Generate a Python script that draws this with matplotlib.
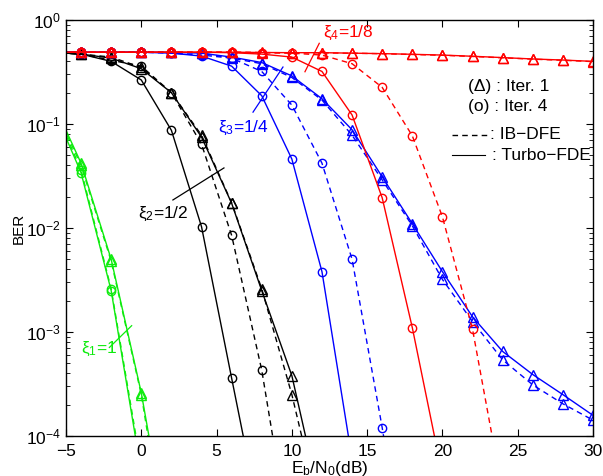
import numpy as np
import matplotlib
matplotlib.use("Agg")
import matplotlib.pyplot as plt

plt.rcParams['font.family'] = ['Liberation Sans', 'DejaVu Sans']
plt.rcParams['mathtext.fontset'] = 'custom'
plt.rcParams['mathtext.rm'] = 'Liberation Sans'
plt.rcParams['mathtext.it'] = 'Liberation Sans:italic'
plt.rcParams['mathtext.bf'] = 'Liberation Sans:bold'

# ---------------- data ----------------
x_full = [-6, -4, -2, 0, 2, 4, 6, 8, 10, 12, 14, 16, 18, 20, 22, 24, 26, 28, 30]

# xi1 = 1 (green)
x_g = [-6, -4, -2, 0, 2]
g_tri_turbo = [0.18, 0.042, 5.0e-3, 2.6e-4, 6e-6]
g_tri_ibdfe = [0.17, 0.040, 4.8e-3, 2.5e-4, 4e-6]
x_g4 = [-6, -4, -2, 0]
g_cir_turbo = [0.16, 0.034, 2.5e-3, 4.5e-5]
g_cir_ibdfe = [0.17, 0.036, 2.6e-3, 5e-5]

# xi2 = 1/2 (black)
x_k = [-6, -4, -2, 0, 2, 4, 6, 8, 10, 12]
k_tri_turbo = [0.49, 0.47, 0.43, 0.34, 0.20, 0.075, 0.0173, 2.5e-3, 3.8e-4, 2e-5]
k_tri_ibdfe = [0.49, 0.47, 0.44, 0.35, 0.20, 0.078, 0.0175, 2.6e-3, 2.5e-4, 1.5e-5]
x_k4t = [-6, -4, -2, 0, 2, 4, 6, 8]
k_cir_turbo = [0.49, 0.47, 0.40, 0.265, 0.087, 0.0103, 3.6e-4, 1.3e-5]
x_k4d = [-6, -4, -2, 0, 2, 4, 6, 8, 10]
k_cir_ibdfe = [0.49, 0.47, 0.41, 0.36, 0.20, 0.064, 0.0085, 4.3e-4, 7.6e-6]

# xi3 = 1/4 (blue)
b_tri_turbo = [0.49, 0.49, 0.49, 0.49, 0.49, 0.48, 0.44, 0.39, 0.29, 0.175, 0.088,
               0.031, 0.011, 3.8e-3, 1.4e-3, 6.5e-4, 3.9e-4, 2.5e-4, 1.58e-4]
b_tri_ibdfe = [0.49, 0.49, 0.49, 0.49, 0.49, 0.48, 0.43, 0.38, 0.28, 0.17, 0.078,
               0.029, 0.0105, 3.2e-3, 1.26e-3, 5.4e-4, 3.1e-4, 2.04e-4, 1.42e-4]
x_b4t = [-6, -4, -2, 0, 2, 4, 6, 8, 10, 12, 14]
b_cir_turbo = [0.49, 0.49, 0.49, 0.49, 0.48, 0.45, 0.36, 0.187, 0.046, 3.8e-3, 6e-5]
x_b4d = [-6, -4, -2, 0, 2, 4, 6, 8, 10, 12, 14, 16, 18]
b_cir_ibdfe = [0.49, 0.49, 0.49, 0.49, 0.48, 0.46, 0.43, 0.32, 0.152, 0.042, 5.0e-3,
               1.2e-4, 2e-6]

# xi4 = 1/8 (red)
r_tri_turbo = [0.49, 0.49, 0.49, 0.49, 0.49, 0.49, 0.49, 0.487, 0.485, 0.485, 0.48,
               0.475, 0.468, 0.46, 0.448, 0.435, 0.422, 0.412, 0.40]
r_tri_ibdfe = [0.49, 0.49, 0.49, 0.49, 0.49, 0.49, 0.49, 0.486, 0.484, 0.483, 0.479,
               0.474, 0.466, 0.458, 0.446, 0.433, 0.42, 0.41, 0.398]
x_r4t = [-6, -4, -2, 0, 2, 4, 6, 8, 10, 12, 14, 16, 18, 20]
r_cir_turbo = [0.49, 0.49, 0.49, 0.49, 0.49, 0.49, 0.485, 0.47, 0.44, 0.32, 0.122,
               0.0195, 1.1e-3, 4.2e-5]
x_r4d = [-6, -4, -2, 0, 2, 4, 6, 8, 10, 12, 14, 16, 18, 20, 22, 24]
r_cir_ibdfe = [0.49, 0.49, 0.49, 0.49, 0.49, 0.49, 0.49, 0.485, 0.48, 0.46, 0.38,
               0.225, 0.077, 0.0128, 1.06e-3, 2.8e-5]

xticks = [-5, 0, 5, 10, 15, 20, 25, 30]
xticklabels = ['\u22125', '0', '5', '10', '15', '20', '25', '30']

# ---------------- figure ----------------
fig = plt.figure(figsize=(6.03, 4.76), dpi=100)
ax = fig.add_axes([66/603, 1-436/476, 527/603, 416/476])

GREEN = (0.05, 0.92, 0.05)
lw = 1.0
ms_c = 6.0
ms_t = 6.5
dash = (4, 3)
FS = 12.5

def curve(x, y, color, marker, dashed):
    kw = dict(color=color, lw=lw, marker=marker, mfc='none', mec=color,
              mew=1.0, ms=ms_t if marker == '^' else ms_c)
    if dashed:
        kw['linestyle'] = (0, dash)
    else:
        kw['linestyle'] = '-'
    ax.plot(x, y, **kw)

# green
curve(x_g, g_tri_turbo, GREEN, '^', False)
curve(x_g, g_tri_ibdfe, GREEN, '^', True)
curve(x_g4, g_cir_turbo, GREEN, 'o', False)
curve(x_g4, g_cir_ibdfe, GREEN, 'o', True)
# black
curve(x_k, k_tri_turbo, 'k', '^', False)
curve(x_k, k_tri_ibdfe, 'k', '^', True)
curve(x_k4t, k_cir_turbo, 'k', 'o', False)
curve(x_k4d, k_cir_ibdfe, 'k', 'o', True)
# blue
curve(x_full, b_tri_turbo, 'b', '^', False)
curve(x_full, b_tri_ibdfe, 'b', '^', True)
curve(x_b4t, b_cir_turbo, 'b', 'o', False)
curve(x_b4d, b_cir_ibdfe, 'b', 'o', True)
# red
curve(x_full, r_tri_turbo, 'r', '^', False)
curve(x_full, r_tri_ibdfe, 'r', '^', True)
curve(x_r4t, r_cir_turbo, 'r', 'o', False)
curve(x_r4d, r_cir_ibdfe, 'r', 'o', True)

ax.set_yscale('log')
ax.set_xlim(-5, 30)
ax.set_ylim(1e-4, 1)
ax.set_xticks(xticks)
ax.set_xticklabels(xticklabels)
ax.tick_params(axis='both', which='both', direction='in', top=True, right=True,
               labelsize=FS)
ax.tick_params(which='major', length=5, width=0.8)
ax.tick_params(which='minor', length=3, width=0.6)
ax.tick_params(axis='x', which='major', pad=6)
ax.minorticks_on()
ax.xaxis.set_minor_locator(matplotlib.ticker.NullLocator())
for s in ax.spines.values():
    s.set_linewidth(1.0)

ax.set_ylabel('BER', fontsize=11, labelpad=0)
ax.set_xlabel('E$_\\mathrm{b}$/N$_\\mathrm{0}$(dB)', fontsize=FS, labelpad=0)

# annotations
ax.plot([10.87, 11.82], [0.318, 0.597], color='r', lw=0.9)
ax.text(12.07, 0.69, '\u03be$_4$=1/8', color='r', fontsize=FS, va='baseline')
ax.plot([7.42, 9.41], [0.130, 0.353], color='b', lw=0.9)
ax.text(5.09, 0.0843, '\u03be$_3$=1/4', color='b', fontsize=FS, va='baseline')
ax.plot([2.1, 5.49], [0.0186, 0.0378], color='k', lw=0.9)
ax.text(-0.22, 0.0124, '\u03be$_2$=1/2', color='k', fontsize=FS, va='baseline')
ax.plot([-2.12, -0.64], [7.1e-4, 1.15e-3], color=GREEN, lw=0.9)
ax.text(-4.02, 6.3e-4, '\u03be$_1$=1', color=GREEN, fontsize=FS, va='baseline')

# legend text
ax.text(0.763, 0.839, '(\u0394) : Iter. 1', transform=ax.transAxes, fontsize=FS, va='center')
ax.text(0.763, 0.791, '(o) : Iter. 4', transform=ax.transAxes, fontsize=FS, va='center')
ax.plot([0.732, 0.801], [0.724, 0.724], transform=ax.transAxes, color='k', lw=1.0,
        linestyle=(0, (4, 3)))
ax.text(0.805, 0.724, ': IB\u2212DFE', transform=ax.transAxes, fontsize=FS, va='center')
ax.plot([0.732, 0.795], [0.675, 0.675], transform=ax.transAxes, color='k', lw=0.8)
ax.text(0.808, 0.675, ': Turbo\u2212FDE', transform=ax.transAxes, fontsize=FS, va='center')

fig.savefig('out.png', dpi=100)
